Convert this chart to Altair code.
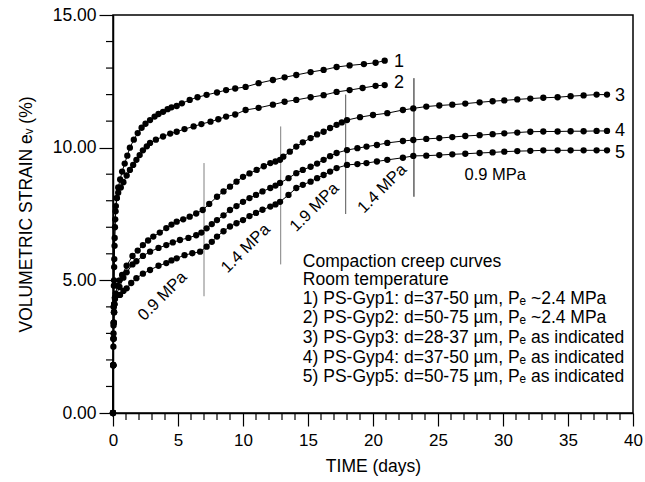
import altair as alt
import pandas as pd

# ---- data ----
t1 = [0, 0.02, 0.03, 0.04, 0.05, 0.07, 0.09, 0.12, 0.15, 0.2, 0.28, 0.4, 0.55, 0.7, 0.9, 1.1, 1.3, 1.6,
      1.9, 2.2, 2.5, 2.85, 3.2, 3.5, 3.85, 4.2, 4.5, 4.9, 5.3, 5.9, 6.5, 7.2, 8.0, 8.7, 9.4, 10.2, 11.2,
      12.3, 13.2, 14.1, 15.2, 16.2, 17.2, 18.2, 19.3, 20.2, 20.9]
y1 = [0, 1.8, 2.5, 3.3, 4.0, 4.8, 5.5, 6.3, 7.0, 7.6, 8.1, 8.5, 8.8, 9.1, 9.4, 9.7, 10.0, 10.3,
      10.55, 10.75, 10.9, 11.04, 11.17, 11.27, 11.35, 11.45, 11.52, 11.57, 11.67, 11.8, 11.9, 11.99, 12.08,
      12.17, 12.23, 12.29, 12.43, 12.55, 12.65, 12.74, 12.85, 12.93, 13.04, 13.1, 13.15, 13.2, 13.28]

t2 = [0, 0.02, 0.04, 0.06, 0.08, 0.1, 0.13, 0.17, 0.22, 0.3, 0.4, 0.6, 0.8, 1.05, 1.3, 1.55, 1.8, 2.05,
      2.3, 2.6, 2.85, 3.3, 3.85, 4.4, 4.9, 5.5, 6.2, 6.8, 7.5, 8.1, 8.7, 9.4, 10.2, 11.2, 12.3, 13.2, 14.1,
      15.2, 16.2, 17.2, 18.2, 19.2, 20.2, 20.9]
y2 = [0, 1.8, 3.0, 4.0, 5.0, 5.8, 6.6, 7.3, 7.8, 8.1, 8.3, 8.5, 8.7, 8.95, 9.16, 9.35, 9.54, 9.72,
      9.9, 10.05, 10.18, 10.3, 10.42, 10.53, 10.6, 10.7, 10.8, 10.89, 10.98, 11.07, 11.17, 11.25, 11.42,
      11.5, 11.62, 11.73, 11.8, 11.9, 11.98, 12.1, 12.17, 12.25, 12.33, 12.36]

t_late = [24.1, 25.1, 26.1, 27.1, 28.2, 29.2, 30.1, 31.1, 32.1, 33.1, 34.2, 35.2, 36.2, 37.2, 38.0]

t3 = [0, 0.02, 0.04, 0.06, 0.08, 0.1, 0.15, 0.2, 0.35, 0.5, 0.7, 1.05, 1.5, 1.9, 2.3, 2.7, 3.1, 3.6,
      4.1, 4.5, 4.9, 5.4, 5.9, 6.4, 6.9, 7.4, 8.0, 8.5, 9.0, 9.5, 10.0, 10.5, 11.05, 11.6, 12.1, 12.5,
      12.85, 13.1, 13.6, 14.1, 14.6, 15.2, 15.7, 16.2, 16.7, 17.2, 17.6, 18.0, 19.0, 20.0, 21.1, 22.3,
      23.1] + t_late
y3 = [0, 1.8, 2.8, 3.4, 3.8, 4.1, 4.35, 4.5, 4.8, 5.0, 5.2, 5.55, 5.92, 6.12, 6.33, 6.5, 6.65, 6.8,
      6.97, 7.1, 7.21, 7.3, 7.4, 7.52, 7.65, 7.88, 8.15, 8.35, 8.53, 8.72, 8.9, 9.03, 9.16, 9.3, 9.42,
      9.48, 9.54, 9.66, 9.85, 10.04, 10.2, 10.36, 10.5, 10.6, 10.74, 10.86, 10.95, 11.04, 11.15, 11.23,
      11.3, 11.42, 11.48,
      11.55, 11.59, 11.62, 11.66, 11.71, 11.75, 11.78, 11.82, 11.85, 11.88, 11.9, 11.94, 11.97, 12.0, 12.0]

t4 = [0, 0.02, 0.04, 0.06, 0.08, 0.1, 0.15, 0.25, 0.5, 0.8, 1.05, 1.5, 1.8, 2.3, 2.85, 3.5, 4.1, 4.6,
      5.15, 5.8, 6.4, 6.8, 7.2, 7.6, 8.0, 8.5, 9.0, 9.5, 10.0, 10.5, 11.0, 11.5, 12.1, 12.5, 12.85, 13.5,
      14.1, 14.6, 15.2, 15.7, 16.2, 16.7, 17.2, 18.0, 18.8, 19.5, 20.3, 21.1, 22.3, 23.1] + t_late
y4 = [0, 1.8, 2.8, 3.4, 3.8, 4.1, 4.3, 4.45, 4.75, 5.1, 5.3, 5.6, 5.72, 5.92, 6.08, 6.22, 6.33, 6.43,
      6.52, 6.6, 6.7, 6.8, 6.96, 7.12, 7.27, 7.45, 7.65, 7.8, 7.96, 8.1, 8.22, 8.35, 8.48, 8.57, 8.67, 8.85,
      9.04, 9.16, 9.28, 9.4, 9.54, 9.68, 9.8, 9.91, 9.98, 10.04, 10.1, 10.18, 10.25, 10.29,
      10.33, 10.36, 10.4, 10.44, 10.47, 10.51, 10.54, 10.57, 10.6, 10.61, 10.61, 10.62, 10.62, 10.63, 10.63]

t5 = [0, 0.02, 0.04, 0.06, 0.08, 0.1, 0.15, 0.3, 0.54, 0.8, 1.05, 1.4, 1.8, 2.3, 2.85, 3.5, 4.1, 4.5,
      4.9, 5.5, 6.1, 6.7, 7.2, 7.6, 8.0, 8.5, 9.0, 9.5, 10.0, 10.5, 11.0, 11.5, 12.1, 12.5, 12.85, 13.5,
      14.1, 14.6, 15.2, 15.7, 16.2, 16.7, 17.2, 18.0, 18.8, 19.5, 20.3, 21.1, 22.3, 23.1] + t_late
y5 = [0, 1.8, 2.8, 3.4, 3.8, 4.1, 4.35, 4.45, 4.45, 4.6, 4.7, 4.9, 5.08, 5.25, 5.39, 5.55, 5.65, 5.75,
      5.83, 5.95, 6.02, 6.08, 6.27, 6.45, 6.65, 6.85, 7.03, 7.15, 7.27, 7.42, 7.54, 7.66, 7.78, 7.86, 7.96,
      8.22, 8.48, 8.6, 8.72, 8.85, 8.97, 9.1, 9.23, 9.35, 9.38, 9.42, 9.48, 9.54, 9.62, 9.69,
      9.7, 9.72, 9.75, 9.77, 9.8, 9.82, 9.85, 9.87, 9.88, 9.9, 9.9, 9.9, 9.9, 9.9, 9.9]

curve_ids = ["1", "2", "3", "4", "5"]
curve_t = [t1, t2, t3, t4, t5]
curve_y = [y1, y2, y3, y4, y5]

# curve end labels
end_label = ["1", "2", "3", "4", "5"]
end_t = [22.0, 22.0, 39.0, 39.0, 39.0]
end_y = [13.24, 12.43, 11.95, 10.63, 9.8]

# pressure change markers
vline_t = [7.0, 12.9, 17.9, 23.15]
vline_lo = [4.4, 5.6, 7.5, 8.15]
vline_hi = [9.42, 10.8, 12.0, 12.62]
vline_color = ["#808080", "#808080", "#555555", "#111111"]

# pressure annotations
ann_text = ["0.9 MPa", "1.4 MPa", "1.9 MPa", "1.4 MPa", "0.9 MPa"]
ann_t = [3.8, 10.2, 15.5, 20.7, 29.4]
ann_y = [4.4, 6.2, 7.75, 8.45, 8.97]
ann_angle = [315, 315, 315, 315, 0]

# legend block
legend_lines = [
    "Compaction creep curves",
    "Room temperature",
    "1) PS-Gyp1: d=37-50 µm, Pₑ ~2.4 MPa",
    "2) PS-Gyp2: d=50-75 µm, Pₑ ~2.4 MPa",
    "3) PS-Gyp3: d=28-37 µm, Pₑ as indicated",
    "4) PS-Gyp4: d=37-50 µm, Pₑ as indicated",
    "5) PS-Gyp5: d=50-75 µm, Pₑ as indicated",
]
legend_t = 14.6
legend_y = [5.69, 5.01, 4.3, 3.58, 2.83, 2.07, 1.36]

x_major = [0, 5, 10, 15, 20, 25, 30, 35, 40]
x_minor = [v for v in range(0, 41) if v % 5 != 0]
y_major = [0, 5, 10, 15]
y_minor = [v for v in range(0, 16) if v % 5 != 0]

FONT = "Liberation Sans"
W, H = 520, 398

# ---- tables ----
rows = []
for cid, ts, ys in zip(curve_ids, curve_t, curve_y):
    for t, y in zip(ts, ys):
        rows.append({"curve": cid, "t": t, "y": y})
df = pd.DataFrame(rows)

df_end = pd.DataFrame({"label": end_label, "t": end_t, "y": end_y})
df_v = pd.DataFrame({"t": vline_t, "lo": vline_lo, "hi": vline_hi, "c": vline_color})
df_ann = pd.DataFrame({"text": ann_text, "t": ann_t, "y": ann_y, "angle": ann_angle})
df_leg = pd.DataFrame({"text": legend_lines, "t": [legend_t] * len(legend_lines), "y": legend_y})
df_xminor = pd.DataFrame({"t": x_minor})
df_yminor = pd.DataFrame({"y": y_minor})

xscale = alt.Scale(domain=[0, 40], nice=False, zero=False)
yscale = alt.Scale(domain=[0, 15], nice=False, zero=False)

xaxis = alt.Axis(
    values=x_major, format="d", labelOverlap=False,
    tickSize=13, grid=False, title="TIME (days)", domainColor="black", domainWidth=1.5,
    tickColor="black", tickWidth=1.2, labelFont=FONT, labelFontSize=17, labelColor="black",
    titleFont=FONT, titleFontSize=17.5, titleFontWeight="normal", titleColor="black",
    labelPadding=6, titlePadding=9, labelFlush=False,
)
yaxis = alt.Axis(
    values=y_major, format=".2f", labelOverlap=False,
    tickSize=14, grid=False, title="VOLUMETRIC STRAIN eᵥ  (%)", domainColor="black", domainWidth=1.5,
    tickColor="black", tickWidth=1.2, labelFont=FONT, labelFontSize=17.5, labelColor="black",
    titleFont=FONT, titleFontSize=17.5, titleFontWeight="normal", titleColor="black",
    labelPadding=3, titlePadding=17, labelFlush=False,
)

base = alt.Chart(df)
lines = base.mark_line(color="black", strokeWidth=1).encode(
    x=alt.X("t:Q", scale=xscale, axis=xaxis),
    y=alt.Y("y:Q", scale=yscale, axis=yaxis),
    detail="curve:N",
)
points = base.mark_circle(color="black", opacity=1, size=40).encode(
    x=alt.X("t:Q", scale=xscale), y=alt.Y("y:Q", scale=yscale)
)

xminor = alt.Chart(df_xminor).mark_rule(color="black", strokeWidth=1.2).encode(
    x=alt.X("t:Q", scale=xscale), y=alt.value(H), y2=alt.value(H + 7)
)
yminor = alt.Chart(df_yminor).mark_rule(color="black", strokeWidth=1.2).encode(
    y=alt.Y("y:Q", scale=yscale), x=alt.value(0), x2=alt.value(-7)
)

vlines = alt.Chart(df_v).mark_rule(strokeWidth=1).encode(
    x=alt.X("t:Q", scale=xscale), y=alt.Y("lo:Q", scale=yscale), y2="hi:Q",
    color=alt.Color("c:N", scale=None),
)

ends = alt.Chart(df_end).mark_text(font=FONT, fontSize=18, color="black", align="center",
                                    baseline="middle").encode(
    x=alt.X("t:Q", scale=xscale), y=alt.Y("y:Q", scale=yscale), text="label:N"
)

ann = alt.Chart(df_ann).mark_text(font=FONT, fontSize=16.5, color="black", align="center",
                                   baseline="middle").encode(
    x=alt.X("t:Q", scale=xscale), y=alt.Y("y:Q", scale=yscale), text="text:N",
    angle=alt.Angle("angle:Q", scale=None),
)

leg = alt.Chart(df_leg).mark_text(font=FONT, fontSize=17.5, color="black", align="left",
                                   baseline="middle").encode(
    x=alt.X("t:Q", scale=xscale), y=alt.Y("y:Q", scale=yscale), text="text:N"
)

chart = alt.layer(vlines, lines, points, xminor, yminor, ends, ann, leg).properties(
    width=W, height=H,
    padding={"left": 113, "top": 15, "right": 12, "bottom": 69},
    autosize=alt.AutoSizeParams(type="none"),
    background="white",
).configure_view(stroke="black", strokeWidth=1.5)

chart.save("out.html", embed_options={"renderer": "svg", "actions": False})
